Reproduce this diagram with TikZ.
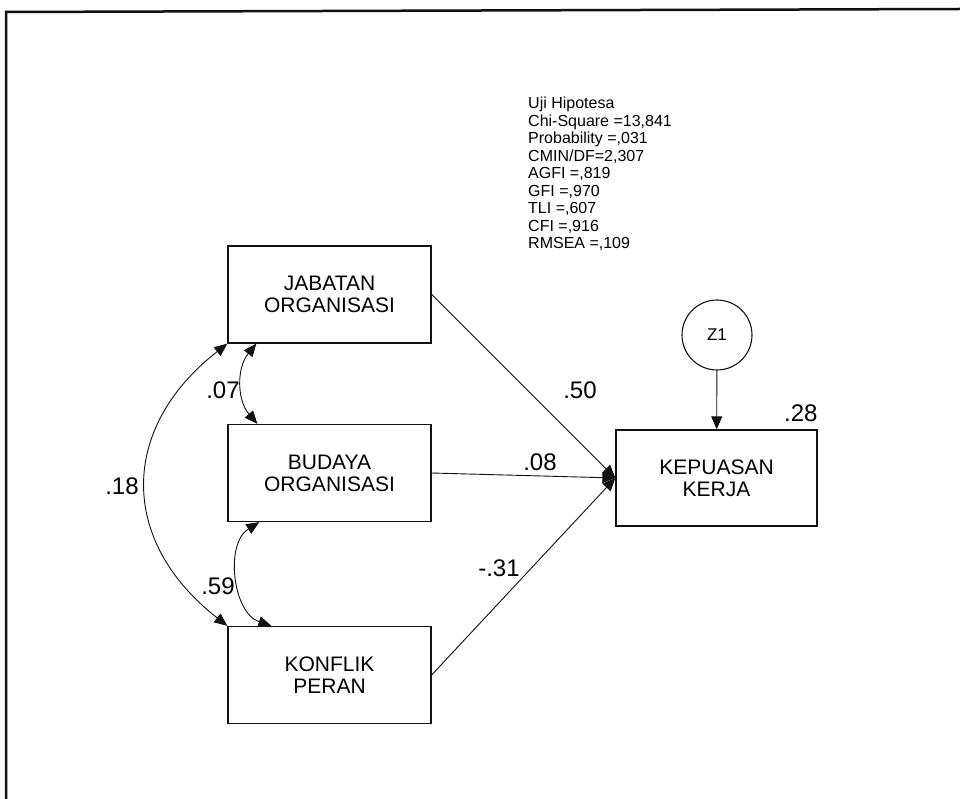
\documentclass[tikz,border=0pt]{standalone}
\usepackage{fontspec}
\setmainfont{Liberation Sans}
\usetikzlibrary{arrows.meta}
\definecolor{semink}{HTML}{111111}

\begin{document}
\begin{tikzpicture}[x=1pt,y=1pt,
  varbox/.style={draw=semink,line width=1.3pt,minimum width=203pt,minimum height=97pt,align=center,inner sep=0pt,font=\fontsize{21}{22}\selectfont},
  errcirc/.style={draw=semink,line width=1.1pt,circle,minimum size=70pt,inner sep=0pt,font=\fontsize{17}{17}\selectfont},
  regarrow/.style={draw=semink,line width=0.9pt,-{Triangle[length=13pt,width=11pt]}},
  covarrow/.style={draw=semink,line width=0.9pt,{Triangle[length=13pt,width=11pt]}-{Triangle[length=13pt,width=11pt]}},
  estlab/.style={inner sep=0pt,font=\fontsize{24}{24}\selectfont}]
  \useasboundingbox (0,0) rectangle (960,-799);
  \draw[semink,line width=2.5pt] (6,-799) -- (6,-12) -- (960,-9);
  % observed variables
  \foreach \n/\y/\t in {jab/294.5/{JABATAN\\ORGANISASI},bud/473/{BUDAYA\\ORGANISASI},kon/675/{KONFLIK\\PERAN}}
    {\node[varbox] (\n) at (329.5,-\y) {\t};}
  \node[varbox,minimum width=201pt,minimum height=96pt] (kep) at (716.5,-478) {KEPUASAN\\KERJA};
  \node[errcirc] (z1) at (717,-335) {Z1};
  % paths
  \draw[regarrow] (z1) -- (kep);
  \foreach \n in {jab,bud,kon}{\draw[regarrow] (\n.east) -- (kep.west);}
  \draw[covarrow] ([xshift=29pt]jab.south west) to[bend right=40] ([xshift=30pt]bud.north west);
  \draw[covarrow] ([xshift=32pt]bud.south west) to[bend right=65] ([xshift=44pt]kon.north west);
  \draw[covarrow] (jab.south west) to[bend right=52,looseness=1.25] (kon.north west);
  % estimates
  \node[estlab] (e07) at (223,-390) {.07};
  \node[estlab] (e59) at (218,-586) {.59};
  \node[estlab] (e18) at (122,-486) {.18};
  \node[estlab] (e50) at (580,-390) {.50};
  \node[estlab] (e08) at (540,-462) {.08};
  \node[estlab] (e31) at (499,-568) {-.31};
  \node[estlab,anchor=south east] (e28) at ([yshift=7pt]kep.north east) {.28};
  \node[anchor=north west,align=left,inner sep=0pt,font=\fontsize{16}{17.5}\selectfont] (fit) at (528,-97)
    {Uji Hipotesa\\Chi-Square =13,841\\Probability =,031\\CMIN/DF=2,307\\AGFI =,819\\GFI =,970\\TLI =,607\\CFI =,916\\RMSEA =,109};
\end{tikzpicture}
\end{document}
